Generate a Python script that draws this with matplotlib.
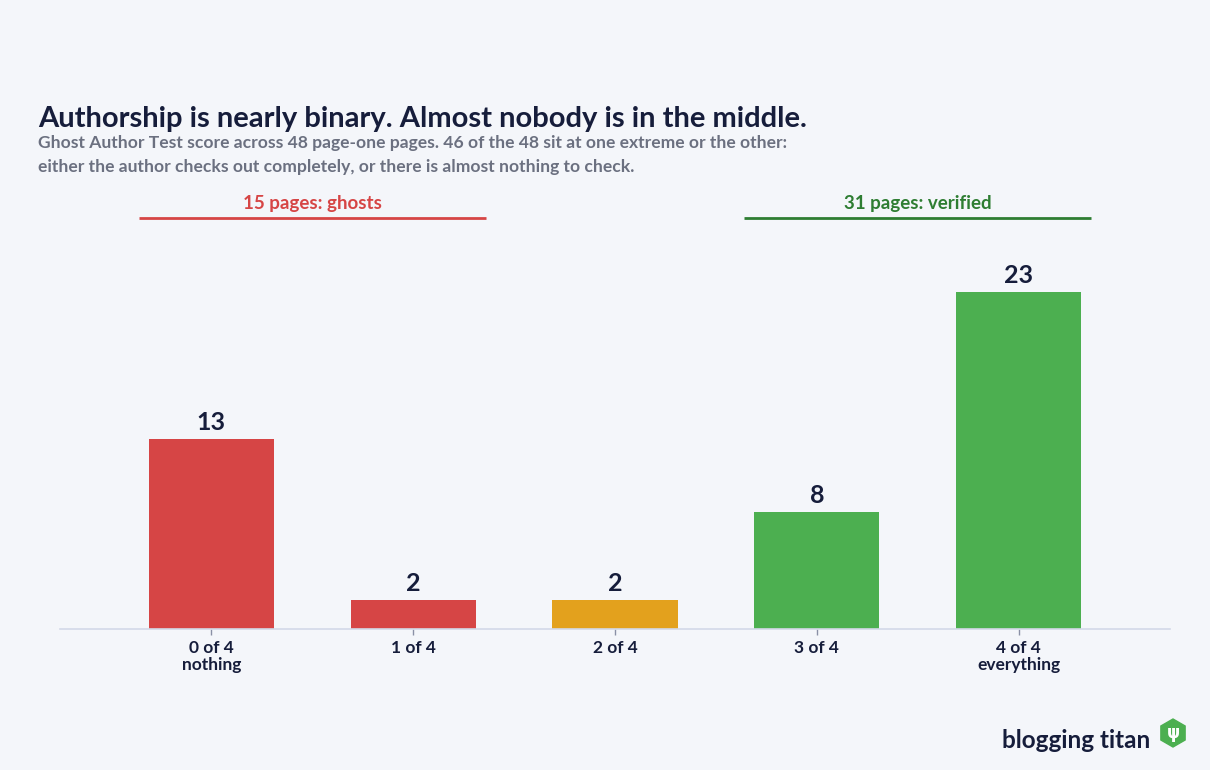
import matplotlib.pyplot as plt
from matplotlib.patches import RegularPolygon
from matplotlib.transforms import IdentityTransform

# data
categories = ["0 of 4\nnothing", "1 of 4", "2 of 4", "3 of 4", "4 of 4\neverything"]
counts = [13, 2, 2, 8, 23]
bar_colors = ["#d64545", "#d64545", "#e3a11d", "#4caf50", "#4caf50"]
groups = [("15 pages: ghosts", 0, 1, "#d64545", "#d64545"),
          ("31 pages: verified", 3, 4, "#2e7d32", "#2e7d32")]

BG = "#f4f6fa"
NAVY = "#161d3b"
GREY = "#6b7080"

plt.rcParams['font.family'] = ['Lato', 'DejaVu Sans']

fig = plt.figure(figsize=(12.1, 7.7), dpi=100, facecolor=BG)
ax = fig.add_axes([60 / 1210, 1 - 629 / 770, 1110 / 1210, 366 / 770])
ax.set_facecolor(BG)

x = range(len(categories))
ax.bar(x, counts, width=0.62, color=bar_colors, zorder=2)
for xi, v in zip(x, counts):
    ax.text(xi, v + 0.35, str(v), ha="center", va="bottom", fontsize=18,
            fontweight="bold", color=NAVY)

ax.set_xlim(-0.75, 4.75)
ax.set_ylim(0, 25)
ax.set_yticks([])
ax.set_xticks(list(x))
ax.set_xticklabels(categories, fontsize=12.5, fontweight="bold", color=NAVY,
                   linespacing=1.1)
ax.tick_params(axis="x", length=4, width=1, color="#8a90a6", pad=4)
for s in ["top", "right", "left"]:
    ax.spines[s].set_visible(False)
ax.spines["bottom"].set_color("#d3d9e8")
ax.spines["bottom"].set_linewidth(1.2)

# group brackets
for label, a, b, tcol, lcol in groups:
    ax.plot([a - 0.36, b + 0.36], [28.1, 28.1], color=lcol, lw=2,
            clip_on=False, solid_capstyle="butt")
    ax.text((a + b) / 2, 28.5, label, ha="center", va="bottom", fontsize=13.5,
            fontweight="bold", color=tcol, clip_on=False)

# titles
fig.text(38 / 1210, 1 - 119 / 770, "Authorship is nearly binary. Almost nobody is in the middle.",
         ha="left", va="center", fontsize=21, fontweight="bold", color=NAVY)
fig.text(38 / 1210, 1 - 143 / 770,
         "Ghost Author Test score across 48 page-one pages. 46 of the 48 sit at one extreme or the other:",
         ha="left", va="center", fontsize=12.6, fontweight="bold", color=GREY)
fig.text(38 / 1210, 1 - 167 / 770,
         "either the author checks out completely, or there is almost nothing to check.",
         ha="left", va="center", fontsize=12.6, fontweight="bold", color=GREY)

# brand
fig.text(1150 / 1210, 1 - 741 / 770, "blogging titan", ha="right", va="center",
         fontsize=17.5, fontweight="bold", color=NAVY)
hexagon = RegularPolygon((1173, 770 - 733), numVertices=6, radius=14,
                         orientation=0, transform=IdentityTransform(), color="#4caf50")
fig.patches.append(hexagon)
fig.text(1173 / 1210, 1 - 733 / 770, "\u03c8", ha="center", va="center",
         fontsize=12, fontweight="bold", color="white", family=["DejaVu Sans"])

fig.savefig("out.png", dpi=100, facecolor=BG)
